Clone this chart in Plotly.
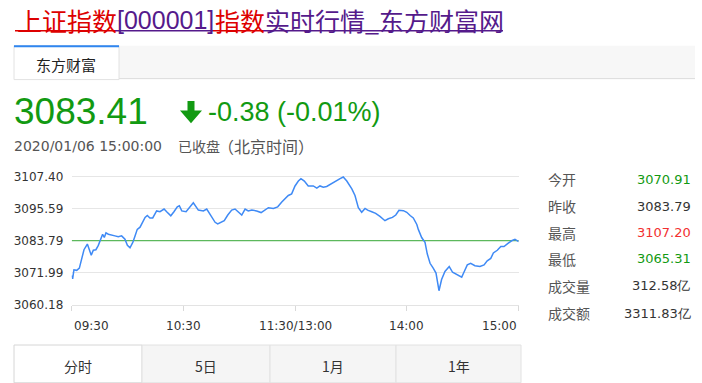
import plotly.graph_objects as go

W, H = 702, 383


def px(x):
    return x / W


def py(y):
    return 1 - y / H


# ---------------- data ----------------
minutes = [
    0, 0.5, 1.2, 2.7, 4.1, 5.4, 6.6, 8.4, 9.4, 10.5,
    11.6, 13.0, 14.3, 15.6, 16.6, 17.5, 18.4, 19.7, 21.5, 23.2,
    25.0, 26.8, 28.6, 29.9, 31.3, 32.8, 34.0, 35.2, 36.7, 38.1,
    39.4, 40.6, 42.0, 43.5, 44.7, 45.6, 47.4, 49.6, 51.0, 53.2,
    54.9, 56.7, 57.8, 59.1, 61.4, 63.1, 65.3, 68.0, 70.7, 72.5,
    74.8, 77.0, 78.4, 80.5, 81.9, 83.8, 85.9, 87.7, 89.5, 91.3,
    93.1, 94.8, 96.7, 99.3, 101.7, 103.8, 105.6, 108.3, 110.6, 112.8,
    114.5, 116.3, 118.1, 119.9, 121.7, 123.1, 124.9, 127.0, 129.7, 131.6,
    133.3, 135.1, 136.9, 138.7, 141.4, 144.1, 145.8, 147.7, 150.4, 152.1,
    153.9, 155.7, 157.5, 158.9, 161.1, 163.2, 165.5, 168.2, 170.0, 172.2,
    174.0, 175.7, 178.1, 179.9, 181.7, 183.4, 185.3, 186.1, 187.9, 189.7,
    190.9, 192.4, 194.1, 195.6, 197.2, 198.6, 200.4, 202.7, 204.5, 206.7,
    209.4, 210.6, 212.4, 214.2, 216.5, 219.2, 221.4, 223.1, 225.0, 226.4,
    228.5, 230.4, 232.1, 234.4, 236.2, 238.0, 240,
]
prices = [
    3070.9, 3069.7, 3073.0, 3072.8, 3073.6, 3077.2, 3080.4, 3082.5, 3080.7, 3078.4,
    3080.2, 3080.4, 3082.0, 3084.3, 3086.1, 3084.9, 3086.6, 3086.1, 3085.9, 3085.5,
    3085.2, 3085.5, 3084.3, 3082.0, 3081.1, 3083.1, 3085.5, 3087.9, 3088.7, 3090.3,
    3092.3, 3093.0, 3092.1, 3092.1, 3093.8, 3094.7, 3094.4, 3095.4, 3094.4, 3092.9,
    3094.4, 3096.2, 3096.6, 3094.7, 3094.4, 3095.9, 3097.7, 3095.0, 3094.7, 3095.4,
    3092.7, 3090.5, 3089.9, 3090.6, 3091.1, 3093.2, 3095.0, 3095.4, 3094.4, 3093.2,
    3095.4, 3094.7, 3095.0, 3094.7, 3094.1, 3095.0, 3095.9, 3095.6, 3096.2, 3098.0,
    3099.2, 3100.4, 3101.0, 3103.9, 3105.7, 3106.6, 3105.7, 3103.9, 3103.9, 3103.1,
    3103.9, 3103.4, 3103.7, 3104.5, 3105.7, 3106.6, 3107.2, 3105.7, 3102.8, 3100.4,
    3095.9, 3094.2, 3095.6, 3095.0, 3094.4, 3093.8, 3092.7, 3091.1, 3091.8, 3092.3,
    3093.2, 3094.9, 3094.8, 3094.2, 3093.0, 3092.1, 3089.7, 3087.9, 3084.9, 3083.1,
    3078.9, 3075.4, 3073.6, 3071.8, 3065.3, 3069.4, 3072.4, 3074.2, 3072.1, 3071.2,
    3070.3, 3072.1, 3074.8, 3075.4, 3074.5, 3074.2, 3074.8, 3076.3, 3077.2, 3079.2,
    3080.2, 3081.6, 3081.6, 3082.8, 3083.7, 3084.2, 3083.4,
]
prev_close = 3083.79
y_tick_vals = [3060.18, 3071.99, 3083.79, 3095.59, 3107.40]
x_tick_vals = [0, 60, 120, 180, 240]
x_tick_text = ["09:30", "10:30", "11:30/13:00", "14:00", "15:00"]
x_tick_anchor = ["left", "center", "center", "center", "right"]

title_parts = ["上证指数", "[000001]", "指数", "实时行情_东方财富网"]
title_colors = ["#dd0000", "#551a8b", "#dd0000", "#551a8b"]
title_x = [15, 115, 213, 263, 503]

price_text = "3083.41"
change_text = "-0.38 (-0.01%)"
time_text = "2020/01/06 15:00:00"
status_text = "已收盘"
zone_text = "（北京时间）"

stat_labels = ["今开", "昨收", "最高", "最低", "成交量", "成交额"]
stat_values = ["3070.91", "3083.79", "3107.20", "3065.31", "312.58亿", "3311.83亿"]
GREEN = "#129a12"
RED = "#f23030"
stat_colors = [GREEN, "#333333", RED, GREEN, "#333333", "#333333"]
stat_rows = [180, 208, 235, 262, 290, 318]

tab_labels = ["分时", "5日", "1月", "1年"]
tab_edges = [14, 142, 270, 396, 521]

CJK = "Noto Sans CJK SC"
SANS = "Liberation Sans, Arial"
DEJA = "DejaVu Sans"

fig = go.Figure()

fig.add_trace(go.Scatter(
    x=[x_tick_vals[0], x_tick_vals[-1]], y=[prev_close, prev_close],
    mode="lines", line=dict(color="#5cb85c", width=1.3), hoverinfo="skip",
))
fig.add_trace(go.Scatter(
    x=minutes, y=prices, mode="lines",
    line=dict(color="#3f8af5", width=1.5), hoverinfo="skip",
))

# plot area geometry (pixels)
x0p, x1p = 71.7, 518.7
ppu = (309.3 - 177.0) / (y_tick_vals[-1] - y_tick_vals[0])
y_top_val = 3108.0
top_px = 177.0 - (y_top_val - y_tick_vals[-1]) * ppu

fig.update_layout(
    width=W, height=H, autosize=False,
    margin=dict(l=0, r=0, t=0, b=0, pad=0),
    paper_bgcolor="white", plot_bgcolor="white",
    showlegend=False,
    font=dict(family=CJK, color="#333333"),
    xaxis=dict(
        domain=[px(x0p), px(x1p)], range=[x_tick_vals[0], x_tick_vals[-1]],
        showgrid=False, zeroline=False, showticklabels=False,
        tickvals=x_tick_vals, ticks="outside", ticklen=5, tickwidth=1,
        tickcolor="#d9d9d9", showline=True, linecolor="#e3e3e3", linewidth=1,
        fixedrange=True,
    ),
    yaxis=dict(
        domain=[py(309.3), py(top_px)], range=[y_tick_vals[0], y_top_val],
        tickvals=y_tick_vals, ticktext=[f"{v:.2f}" for v in y_tick_vals],
        showgrid=True, gridcolor="#e6e6e6", gridwidth=1, zeroline=False,
        showline=False, ticks="outside", ticklen=5, tickcolor="rgba(0,0,0,0)",
        tickfont=dict(family=DEJA, size=12, color="#333333"), fixedrange=True,
    ),
)

shapes = []
ann = []

# title with underlines
for i, (t, c) in enumerate(zip(title_parts, title_colors)):
    ann.append(dict(x=px(title_x[i]), y=py(15), xref="paper", yref="paper",
                    text=t, showarrow=False, xanchor="left", yanchor="middle",
                    font=dict(family=CJK if i != 1 else SANS, size=25, color=c)))
    shapes.append(dict(type="line", xref="paper", yref="paper",
                       x0=px(title_x[i]), x1=px(title_x[i + 1]), y0=py(26.5), y1=py(26.5),
                       line=dict(color=c, width=1.5)))

# header tab bar
shapes.append(dict(type="rect", xref="paper", yref="paper", x0=px(14), x1=px(695),
                   y0=py(76), y1=py(42), fillcolor="#f7f7f7", line=dict(width=0), layer="below"))
shapes.append(dict(type="line", xref="paper", yref="paper", x0=px(14), x1=px(695),
                   y0=py(76), y1=py(76), line=dict(color="#dcdcdc", width=1)))
shapes.append(dict(type="rect", xref="paper", yref="paper", x0=px(14), x1=px(119),
                   y0=py(77), y1=py(42), fillcolor="white", line=dict(color="#e2e2e2", width=1)))
shapes.append(dict(type="line", xref="paper", yref="paper", x0=px(14), x1=px(119),
                   y0=py(42.5), y1=py(42.5), line=dict(color="#2f86f0", width=2)))
ann.append(dict(x=px(66), y=py(61), xref="paper", yref="paper", text="东方财富",
                showarrow=False, xanchor="center", yanchor="middle",
                font=dict(family=CJK, size=15, color="#222222")))

# price block
ann.append(dict(x=px(12), y=py(110), xref="paper", yref="paper", text=price_text,
                showarrow=False, xanchor="left", yanchor="middle",
                font=dict(family=SANS, size=37, color=GREEN)))
arrow = [(187.5, 99), (194.5, 99), (194.5, 109), (202, 109), (191, 122), (180, 109), (187.5, 109)]
path = "M " + " L ".join(f"{px(a):.5f},{py(b):.5f}" for a, b in arrow) + " Z"
shapes.append(dict(type="path", xref="paper", yref="paper", path=path,
                   fillcolor=GREEN, line=dict(width=0)))
ann.append(dict(x=px(206), y=py(110), xref="paper", yref="paper", text=change_text,
                showarrow=False, xanchor="left", yanchor="middle",
                font=dict(family=SANS, size=27, color=GREEN)))
ann.append(dict(x=px(12), y=py(146), xref="paper", yref="paper", text=time_text,
                showarrow=False, xanchor="left", yanchor="middle",
                font=dict(family=DEJA, size=14, color="#555555")))
ann.append(dict(x=px(176), y=py(146), xref="paper", yref="paper", text=status_text,
                showarrow=False, xanchor="left", yanchor="middle",
                font=dict(family=CJK, size=14, color="#555555")))
ann.append(dict(x=px(216), y=py(146), xref="paper", yref="paper", text=zone_text,
                showarrow=False, xanchor="left", yanchor="middle",
                font=dict(family=CJK, size=16, color="#555555")))

# x tick labels
for v, t, a in zip(x_tick_vals, x_tick_text, x_tick_anchor):
    ann.append(dict(x=v, y=py(331), xref="x", yref="paper", text=t, showarrow=False,
                    xanchor=a, yanchor="middle",
                    font=dict(family=DEJA, size=12, color="#333333")))

# stats panel
for lab, val, col, yy in zip(stat_labels, stat_values, stat_colors, stat_rows):
    ann.append(dict(x=px(546), y=py(yy), xref="paper", yref="paper", text=lab,
                    showarrow=False, xanchor="left", yanchor="middle",
                    font=dict(family=CJK, size=14, color="#555555")))
    ann.append(dict(x=px(693), y=py(yy), xref="paper", yref="paper", text=val,
                    showarrow=False, xanchor="right", yanchor="middle",
                    font=dict(family=DEJA, size=13, color=col)))

# bottom tabs
for i, lab in enumerate(tab_labels):
    fill = "white" if i == 0 else "#f5f5f5"
    shapes.append(dict(type="rect", xref="paper", yref="paper",
                       x0=px(tab_edges[i]), x1=px(tab_edges[i + 1]), y0=py(390), y1=py(351),
                       fillcolor=fill, line=dict(color="#e2e2e2" if i else "#d6d6d6", width=1),
                       layer="below"))
    ann.append(dict(x=px((tab_edges[i] + tab_edges[i + 1]) / 2), y=py(373), xref="paper",
                    yref="paper", text=lab, showarrow=False, xanchor="center",
                    yanchor="middle", font=dict(family=CJK, size=14, color="#333333")))

fig.update_layout(shapes=shapes, annotations=ann)
fig.write_html("out.html")
